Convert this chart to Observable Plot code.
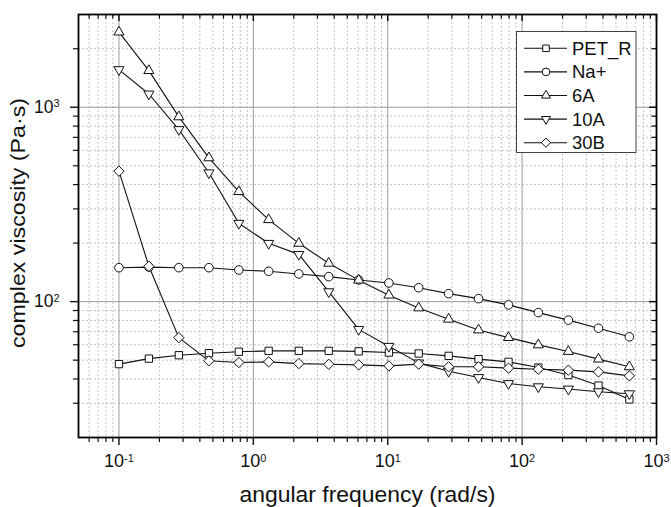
<!DOCTYPE html>
<html><head><meta charset="utf-8">
<script src="https://cdn.jsdelivr.net/npm/d3@7"></script>
<script src="https://cdn.jsdelivr.net/npm/@observablehq/plot@0.6"></script>
<style>body{margin:0;background:#fff}</style>
</head><body><div id="chart"></div>
<script>
// ---- data ----
const freq   = [0.1, 0.167, 0.279, 0.467, 0.78, 1.30, 2.18, 3.64, 6.08, 10.2, 17.0, 28.4, 47.4, 79.2, 132, 221, 370, 628];
const petR   = [47.7, 50.9, 53.0, 54.3, 55.2, 55.8, 55.8, 55.8, 55.5, 54.7, 54.1, 52.6, 50.6, 49.0, 45.8, 41.9, 37.0, 31.4];
const naPlus = [149.5, 150.5, 149.5, 149.5, 145.5, 143.3, 138.8, 134.4, 129.3, 124.7, 117.9, 109.9, 103.6, 96.2, 87.8, 80.3, 73.0, 65.9];
const a6     = [2436, 1543, 892, 549, 368, 264, 199.5, 157.5, 129, 108, 92.8, 81.2, 71.5, 65.3, 59.9, 55.4, 50.6, 46.2];
const a10    = [1562, 1170, 768, 460, 253, 199.5, 175, 112.5, 72, 58.9, 48.4, 43.8, 40.7, 37.9, 36.5, 35.5, 34.4, 33.6];
const b30    = [469, 152, 65.3, 49.6, 48.6, 49.0, 48.0, 47.6, 47.3, 46.7, 47.7, 46.2, 46.2, 45.5, 44.9, 44.4, 43.5, 41.5];
const seriesNames = ["PET_R", "Na+", "6A", "10A", "30B"];
const seriesValues = [petR, naPlus, a6, a10, b30];
const xMajor = [0.1, 1, 10, 100, 1000];
const yMajor = [100, 1000];
const xLabel = "angular frequency (rad/s)";
const yLabel = "complex viscosity (Pa·s)";

// ---- symbols ----
const rOf = size => Math.sqrt(size / Math.PI);
const symSquare = {draw(c, size){const s = rOf(size)*0.85; c.moveTo(-s,-s); c.lineTo(s,-s); c.lineTo(s,s); c.lineTo(-s,s); c.closePath();}};
const symTriUp = {draw(c, size){const a = rOf(size)*2.35, h = a*0.866; c.moveTo(0,-2*h/3); c.lineTo(a/2,h/3); c.lineTo(-a/2,h/3); c.closePath();}};
const symTriDown = {draw(c, size){const a = rOf(size)*2.35, h = a*0.866; c.moveTo(0,2*h/3); c.lineTo(a/2,-h/3); c.lineTo(-a/2,-h/3); c.closePath();}};
const symDiamond = {draw(c, size){const d = rOf(size)*1.2; c.moveTo(0,-d); c.lineTo(d,0); c.lineTo(0,d); c.lineTo(-d,0); c.closePath();}};
const symbols = [symSquare, d3.symbolCircle, symTriUp, symTriDown, symDiamond];

const table = seriesNames.flatMap((name, k) => freq.map((f, i) => ({series: name, x: f, y: seriesValues[k][i]})));

const xMinor = [], yMinor = [];
for (const dec of [0.01, 0.1, 1, 10, 100]) for (let m = 2; m <= 9; m++) { const v = +(m*dec).toPrecision(3); if (v > 0.05 && v < 1000) xMinor.push(v); }
for (const dec of [10, 100, 1000]) for (let m = 2; m <= 9; m++) { const v = m*dec; if (v > 20 && v < 3000) yMinor.push(v); }

const R = 4.3;
const font = "'Liberation Sans', Arial, sans-serif";
const expFmt = d => String(Math.round(Math.log10(d)));

const marks = [
  Plot.gridX(xMinor, {stroke: "#c4c4c4", strokeOpacity: 1, strokeDasharray: "2,2", strokeWidth: 1}),
  Plot.gridY(yMinor, {stroke: "#c4c4c4", strokeOpacity: 1, strokeDasharray: "2,2", strokeWidth: 1}),
  Plot.gridX(xMajor.filter(d => d < 1000), {stroke: "#9a9a9a", strokeOpacity: 1, strokeWidth: 1}),
  Plot.gridY(yMajor, {stroke: "#9a9a9a", strokeOpacity: 1, strokeWidth: 1}),
];
seriesNames.forEach((name, k) => {
  const d = table.filter(t => t.series === name);
  marks.push(Plot.line(d, {x: "x", y: "y", stroke: "#111", strokeWidth: 1.1}));
});
seriesNames.forEach((name, k) => {
  const d = table.filter(t => t.series === name);
  marks.push(Plot.dot(d, {x: "x", y: "y", r: R, symbol: symbols[k], fill: "white", stroke: "#111", strokeWidth: 1}));
});
marks.push(
  Plot.axisX(xMajor, {label: null, tickSize: 8, tickPadding: 9, tickFormat: expFmt, fontSize: 18, strokeWidth: 1.4}),
  Plot.axisX(xMinor, {label: null, tickSize: 5, tickFormat: () => "", strokeWidth: 1.2}),
  Plot.axisY(yMajor, {label: null, tickSize: 8, tickPadding: 11, tickFormat: expFmt, fontSize: 17.5, strokeWidth: 1.4}),
  Plot.axisY(yMinor, {label: null, tickSize: 5, tickFormat: () => "", strokeWidth: 1.2}),
  // inward ticks on top and right
  Plot.ruleX(xMajor, {x: d => d, y1: () => 3000, y2: () => 3000, insetBottom: -7, stroke: "black", strokeWidth: 1.4}),
  Plot.ruleX(xMinor, {x: d => d, y1: () => 3000, y2: () => 3000, insetBottom: -4.5, stroke: "black", strokeWidth: 1.2}),
  Plot.ruleY(yMajor, {y: d => d, x1: () => 1000, x2: () => 1000, insetLeft: -7, stroke: "black", strokeWidth: 1.4}),
  Plot.ruleY(yMinor, {y: d => d, x1: () => 1000, x2: () => 1000, insetLeft: -4.5, stroke: "black", strokeWidth: 1.2}),
  Plot.frame({stroke: "black", strokeWidth: 1.8})
);

const chart = Plot.plot({
  width: 671, height: 507,
  marginLeft: 78, marginRight: 15, marginTop: 14, marginBottom: 70,
  style: {fontFamily: font, background: "white", color: "#111"},
  x: {type: "log", domain: [0.05, 1000], axis: null},
  y: {type: "log", domain: [20, 3000], axis: null},
  marks
});
document.getElementById("chart").appendChild(chart);

const svg = d3.select(chart);
// superscript exponents on tick labels
svg.selectAll("g[aria-label='x-axis tick label'] text, g[aria-label='y-axis tick label'] text").each(function() {
  const t = d3.select(this);
  const e = t.text();
  if (e === "") return;
  t.text("10");
  t.append("tspan").attr("dy", "-5.5").attr("font-size", 11).text(e);
});

// axis titles
svg.append("text").attr("x", 367.5).attr("y", 502).attr("text-anchor", "middle")
  .attr("font-size", 21.5).attr("font-family", font).attr("fill", "#111")
  .attr("textLength", 256).attr("lengthAdjust", "spacingAndGlyphs").text(xLabel);
svg.append("text").attr("transform", "translate(25,223) rotate(-90)").attr("text-anchor", "middle")
  .attr("font-size", 21).attr("font-family", font).attr("fill", "#111")
  .attr("textLength", 250).attr("lengthAdjust", "spacingAndGlyphs").text(yLabel);

// legend
const lg = svg.append("g").attr("font-family", font).attr("text-anchor", "start");
lg.append("rect").attr("x", 516.5).attr("y", 31.5).attr("width", 119.5).attr("height", 121)
  .attr("fill", "white").attr("stroke", "#444").attr("stroke-width", 1);
seriesNames.forEach((name, k) => {
  const cy = 48.3 + k * 23.6;
  lg.append("line").attr("x1", 524).attr("x2", 567).attr("y1", cy).attr("y2", cy).attr("stroke", "#111").attr("stroke-width", 1.1);
  lg.append("path").attr("transform", `translate(546,${cy})`)
    .attr("d", d3.symbol(symbols[k], R * R * Math.PI * 0.8)()).attr("fill", "white").attr("stroke", "#111").attr("stroke-width", 1);
  lg.append("text").attr("x", 572).attr("y", cy + 6.5).attr("font-size", 18.5).attr("text-anchor", "start").attr("fill", "#111").text(name);
});
</script>
</body></html>
